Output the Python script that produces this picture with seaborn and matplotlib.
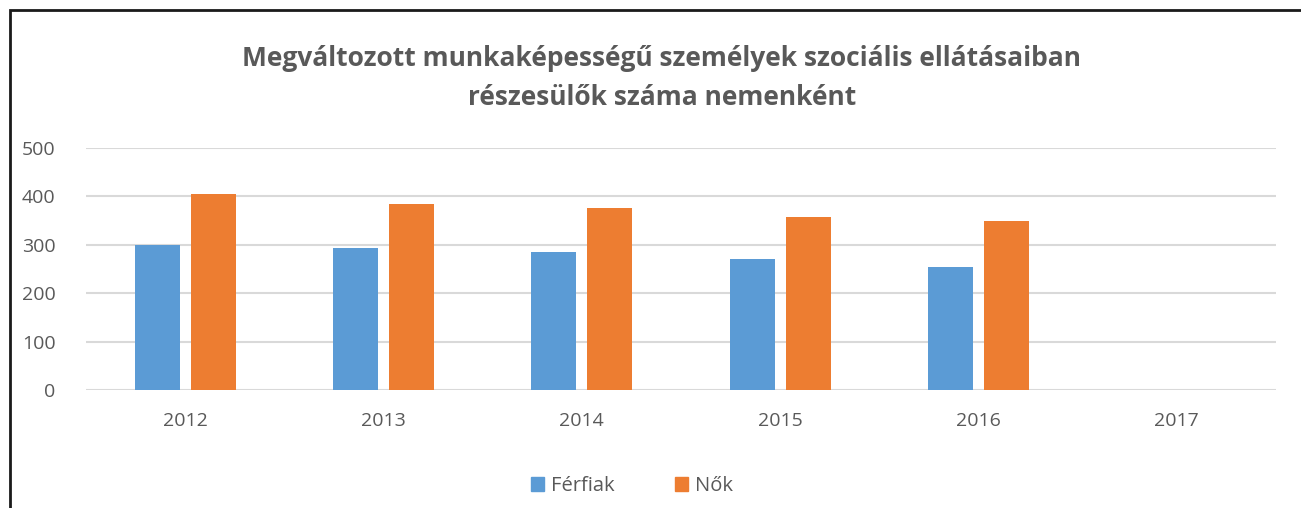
import matplotlib
matplotlib.use("Agg")
import matplotlib.pyplot as plt
import seaborn as sns
import pandas as pd
from matplotlib.patches import Rectangle

# Number of recipients per year, by sex
years = ["2012", "2013", "2014", "2015", "2016", "2017"]
ferfiak = [299, 293, 286, 270, 255, None]
nok = [404, 384, 375, 357, 350, None]
series_names = ["Férfiak", "Nők"]
colors = ["#5B9BD5", "#ED7D31"]

title = ("Megváltozott munkaképességű személyek szociális ellátásaiban\n"
         "részesülők száma nemenként")

rows = []
for y, f, n in zip(years, ferfiak, nok):
    rows.append({"Év": y, "Nem": series_names[0], "Érték": f})
    rows.append({"Év": y, "Nem": series_names[1], "Érték": n})
df = pd.DataFrame(rows)

sns.set_theme(style="white")
plt.rcParams["font.family"] = ["Open Sans", "DejaVu Sans"]

W, H = 1301, 508
fig = plt.figure(figsize=(W / 100, H / 100), dpi=100)
ax = fig.add_axes([86 / W, 1 - 390 / H, (1276 - 86) / W, (390 - 148) / H])

sns.barplot(data=df, x="Év", y="Érték", hue="Nem", order=years,
            hue_order=series_names, palette=colors, width=0.565, gap=0.2,
            linewidth=0, saturation=1, ax=ax, legend=False, zorder=3)

ax.set_xlim(-0.5, len(years) - 0.5)
ax.set_ylim(0, 500)
ax.set_yticks([0, 100, 200, 300, 400, 500])
ax.yaxis.grid(True, color="#D9D9D9", linewidth=1.5, zorder=0)
ax.set_axisbelow(True)
for s in ax.spines.values():
    s.set_visible(False)
ax.set_xlabel("")
ax.set_ylabel("")
ax.tick_params(axis="y", length=0, pad=22, labelsize=14, labelcolor="#595959")
ax.tick_params(axis="x", length=0, pad=16, labelsize=14, labelcolor="#595959")

# Legend below the plot
handles = [Rectangle((0, 0), 1, 1, color=c) for c in colors]
fig.legend(handles, series_names, loc="center", bbox_to_anchor=(632 / W, 1 - 486 / H),
           ncol=2, frameon=False, fontsize=14.5, labelcolor="#595959",
           handlelength=0.65, handleheight=0.65, handletextpad=0.35, columnspacing=3.0)

fig.text(662 / W, 1 - 78 / H, title, ha="center", va="center", fontsize=19,
         fontweight="bold", color="#595959", linespacing=1.55)

# Chart frame
fig.patches.append(Rectangle((10 / W, -0.05), 1.1, 1 - 10 / H + 0.05,
                             transform=fig.transFigure, fill=False,
                             edgecolor="#1a1a1a", linewidth=2))

fig.savefig("out.png", dpi=100, facecolor="white")
